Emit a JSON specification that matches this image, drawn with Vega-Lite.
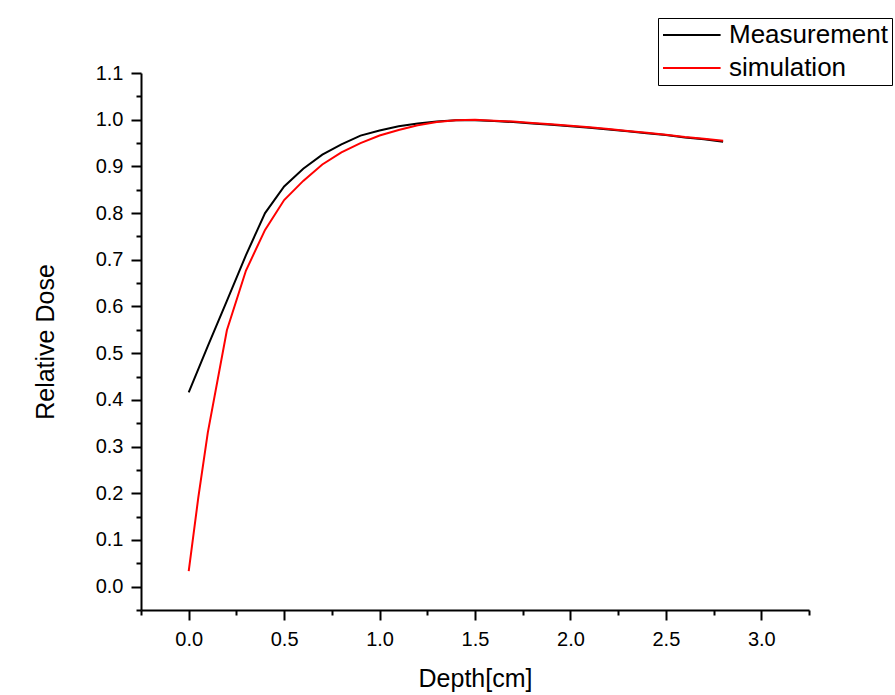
{
  "$schema": "https://vega.github.io/schema/vega-lite/v6.json",
  "autosize": "none",
  "width": 668,
  "height": 537,
  "padding": {"left": 141, "top": 73, "right": 86, "bottom": 85},
  "background": "white",
  "config": {
    "view": {"stroke": null},
    "font": "Liberation Sans",
    "axis": {
      "domainColor": "black",
      "domainWidth": 2,
      "tickColor": "black",
      "tickWidth": 2,
      "labelColor": "black",
      "titleColor": "black",
      "labelFont": "Liberation Sans",
      "titleFont": "Liberation Sans",
      "labelFontSize": 20,
      "titleFontSize": 25,
      "titleFontWeight": "normal",
      "grid": false
    }
  },
  "data": {
    "values": [
      {"depth": 0.0, "dose": 0.416, "series": "Measurement"},
      {"depth": 0.1, "dose": 0.515, "series": "Measurement"},
      {"depth": 0.2, "dose": 0.612, "series": "Measurement"},
      {"depth": 0.3, "dose": 0.71, "series": "Measurement"},
      {"depth": 0.4, "dose": 0.8, "series": "Measurement"},
      {"depth": 0.5, "dose": 0.857, "series": "Measurement"},
      {"depth": 0.6, "dose": 0.895, "series": "Measurement"},
      {"depth": 0.7, "dose": 0.925, "series": "Measurement"},
      {"depth": 0.8, "dose": 0.947, "series": "Measurement"},
      {"depth": 0.9, "dose": 0.966, "series": "Measurement"},
      {"depth": 1.0, "dose": 0.977, "series": "Measurement"},
      {"depth": 1.1, "dose": 0.986, "series": "Measurement"},
      {"depth": 1.2, "dose": 0.992, "series": "Measurement"},
      {"depth": 1.3, "dose": 0.996, "series": "Measurement"},
      {"depth": 1.4, "dose": 0.999, "series": "Measurement"},
      {"depth": 1.5, "dose": 0.999, "series": "Measurement"},
      {"depth": 1.6, "dose": 0.997, "series": "Measurement"},
      {"depth": 1.7, "dose": 0.995, "series": "Measurement"},
      {"depth": 1.8, "dose": 0.992, "series": "Measurement"},
      {"depth": 1.9, "dose": 0.989, "series": "Measurement"},
      {"depth": 2.0, "dose": 0.986, "series": "Measurement"},
      {"depth": 2.1, "dose": 0.983, "series": "Measurement"},
      {"depth": 2.2, "dose": 0.979, "series": "Measurement"},
      {"depth": 2.3, "dose": 0.975, "series": "Measurement"},
      {"depth": 2.4, "dose": 0.971, "series": "Measurement"},
      {"depth": 2.5, "dose": 0.967, "series": "Measurement"},
      {"depth": 2.6, "dose": 0.962, "series": "Measurement"},
      {"depth": 2.7, "dose": 0.958, "series": "Measurement"},
      {"depth": 2.8, "dose": 0.953, "series": "Measurement"},
      {"depth": 0.0, "dose": 0.033, "series": "simulation"},
      {"depth": 0.05, "dose": 0.19, "series": "simulation"},
      {"depth": 0.1, "dose": 0.33, "series": "simulation"},
      {"depth": 0.2, "dose": 0.549, "series": "simulation"},
      {"depth": 0.3, "dose": 0.677, "series": "simulation"},
      {"depth": 0.4, "dose": 0.764, "series": "simulation"},
      {"depth": 0.5, "dose": 0.828, "series": "simulation"},
      {"depth": 0.6, "dose": 0.869, "series": "simulation"},
      {"depth": 0.7, "dose": 0.904, "series": "simulation"},
      {"depth": 0.8, "dose": 0.93, "series": "simulation"},
      {"depth": 0.9, "dose": 0.95, "series": "simulation"},
      {"depth": 1.0, "dose": 0.966, "series": "simulation"},
      {"depth": 1.1, "dose": 0.978, "series": "simulation"},
      {"depth": 1.2, "dose": 0.988, "series": "simulation"},
      {"depth": 1.3, "dose": 0.995, "series": "simulation"},
      {"depth": 1.4, "dose": 0.999, "series": "simulation"},
      {"depth": 1.5, "dose": 1.0, "series": "simulation"},
      {"depth": 1.6, "dose": 0.998, "series": "simulation"},
      {"depth": 1.7, "dose": 0.996, "series": "simulation"},
      {"depth": 1.8, "dose": 0.993, "series": "simulation"},
      {"depth": 1.9, "dose": 0.99, "series": "simulation"},
      {"depth": 2.0, "dose": 0.987, "series": "simulation"},
      {"depth": 2.1, "dose": 0.984, "series": "simulation"},
      {"depth": 2.2, "dose": 0.98, "series": "simulation"},
      {"depth": 2.3, "dose": 0.976, "series": "simulation"},
      {"depth": 2.4, "dose": 0.972, "series": "simulation"},
      {"depth": 2.5, "dose": 0.968, "series": "simulation"},
      {"depth": 2.6, "dose": 0.963, "series": "simulation"},
      {"depth": 2.7, "dose": 0.959, "series": "simulation"},
      {"depth": 2.8, "dose": 0.955, "series": "simulation"}
    ]
  },
  "layer": [
    {
      "mark": {"type": "point", "opacity": 0},
      "encoding": {
        "x": {
          "field": "depth", "type": "quantitative",
          "scale": {"domain": [-0.25, 3.25], "nice": false, "zero": false},
          "axis": {"orient": "bottom", "values": [-0.25, 0.25, 0.75, 1.25, 1.75, 2.25, 2.75, 3.25], "labels": false, "tickSize": 5, "title": null, "domain": false}
        },
        "y": {
          "field": "dose", "type": "quantitative",
          "scale": {"domain": [-0.05, 1.1], "nice": false, "zero": false},
          "axis": {"orient": "left", "values": [-0.05, 0.05, 0.15, 0.25, 0.35, 0.45, 0.55, 0.65, 0.75, 0.85, 0.95, 1.05], "labels": false, "tickSize": 5, "title": null, "domain": false}
        }
      }
    },
    {
      "mark": {"type": "line", "strokeWidth": 2},
      "encoding": {
        "x": {
          "field": "depth", "type": "quantitative",
          "scale": {"domain": [-0.25, 3.25], "nice": false, "zero": false},
          "axis": {"orient": "bottom", "values": [0, 0.5, 1.0, 1.5, 2.0, 2.5, 3.0], "format": ".1f", "tickSize": 10, "labelPadding": 9, "title": "Depth[cm]", "titlePadding": 17}
        },
        "y": {
          "field": "dose", "type": "quantitative",
          "scale": {"domain": [-0.05, 1.1], "nice": false, "zero": false},
          "axis": {"orient": "left", "values": [0, 0.1, 0.2, 0.3, 0.4, 0.5, 0.6, 0.7, 0.8, 0.9, 1.0, 1.1], "format": ".1f", "tickSize": 10, "labelPadding": 8, "title": "Relative Dose", "titlePadding": 37}
        },
        "color": {
          "field": "series", "type": "nominal",
          "scale": {"domain": ["Measurement", "simulation"], "range": ["black", "red"]},
          "legend": {
            "title": null,
            "orient": "none",
            "legendX": 517,
            "legendY": -55,
            "strokeColor": "black",
            "padding": 4,
            "symbolType": "M-1,0H3.8",
            "symbolSize": 576,
            "symbolStrokeWidth": 2,
            "labelFontSize": 26,
            "labelFont": "Liberation Sans",
            "labelColor": "black",
            "labelOffset": 41,
            "rowPadding": 7,
            "fillColor": "white"
          }
        }
      }
    }
  ],
  "resolve": {"axis": {"x": "independent", "y": "independent"}}
}
